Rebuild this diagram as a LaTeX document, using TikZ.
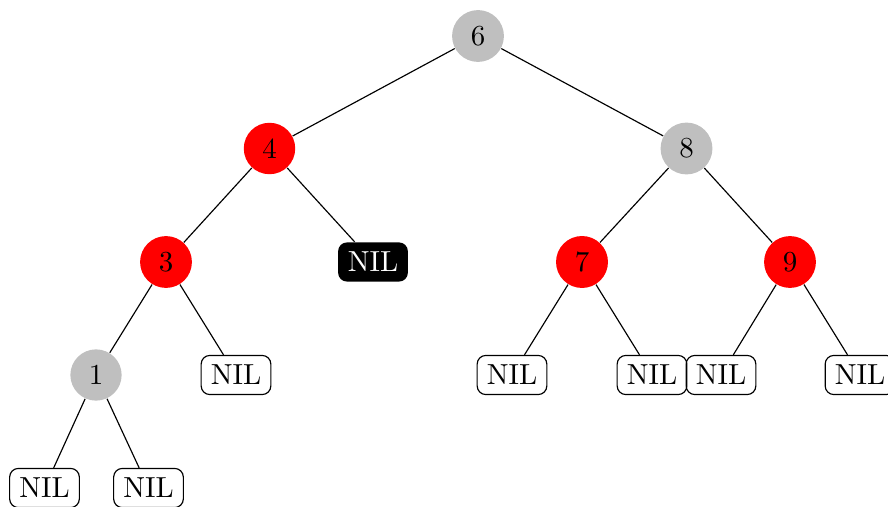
\documentclass[tikz,border=0pt]{standalone}
\begin{document}
\begin{tikzpicture}[x=0.3448pt,y=-0.3448pt,
  rbnode/.style={circle,draw=none,font=\normalsize},
  rednode/.style={rbnode,fill=red},
  graynode/.style={rbnode,fill=black!25},
  nilnode/.style={draw,rounded corners=3pt},
  blacknil/.style={fill=black,text=white,rounded corners=3pt},
  edge/.style={draw,line width=0.4pt}]
\useasboundingbox (0,0) rectangle (888,507);
\node[graynode] (n6) at (478,36) {6};
\node[rednode] (n4) at (269.5,148.5) {4};
\node[graynode] (n8) at (686.5,148.5) {8};
\node[rednode] (n3) at (166,262) {3};
\node[blacknil] (nb) at (373,262) {NIL};
\node[rednode] (n7) at (582,262) {7};
\node[rednode] (n9) at (790,262) {9};
\node[graynode] (n1) at (96,375) {1};
\node[nilnode] (l3) at (236,375) {NIL};
\node[nilnode] (l7a) at (512,375) {NIL};
\node[nilnode] (l7b) at (652,375) {NIL};
\node[nilnode] (l9a) at (721,375) {NIL};
\node[nilnode] (l9b) at (860,375) {NIL};
\node[nilnode] (l1a) at (44.5,488) {NIL};
\node[nilnode] (l1b) at (148.5,488) {NIL};
\draw[edge] (n6) -- (n4);
\draw[edge] (n6) -- (n8);
\draw[edge] (n4) -- (n3);
\draw[edge] (n4) -- (nb);
\draw[edge] (n8) -- (n7);
\draw[edge] (n8) -- (n9);
\draw[edge] (n3) -- (n1);
\draw[edge] (n3) -- (l3);
\draw[edge] (n7) -- (l7a);
\draw[edge] (n7) -- (l7b);
\draw[edge] (n9) -- (l9a);
\draw[edge] (n9) -- (l9b);
\draw[edge] (n1) -- (l1a);
\draw[edge] (n1) -- (l1b);
\end{tikzpicture}
\end{document}
